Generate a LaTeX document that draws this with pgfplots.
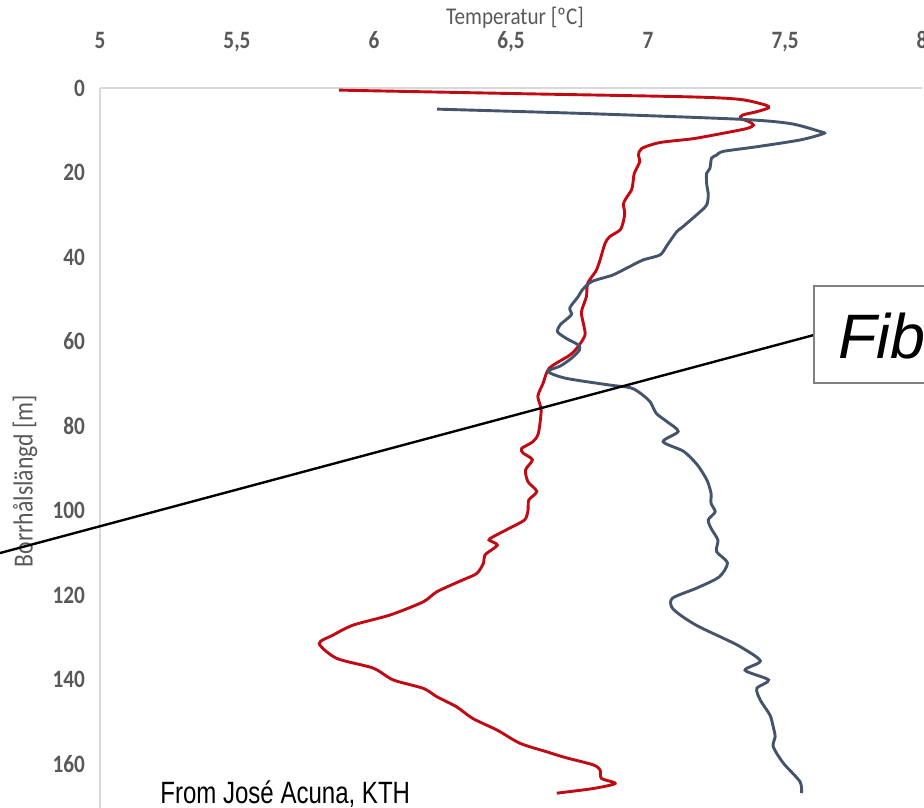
\documentclass[border=0pt]{standalone}
\usepackage{fontspec}
\usepackage{pgfplots}
\pgfplotsset{compat=1.18}
\newfontfamily\carl{Carlito}
\newfontfamily\arialn{Liberation Sans}
\newcommand{\sq}[1]{\scalebox{0.85}[1]{#1}}
\definecolor{redline}{RGB}{192,10,20}
\definecolor{blueline}{RGB}{68,84,106}
\definecolor{txtgray}{RGB}{89,89,89}
\definecolor{axgray}{RGB}{217,217,217}
\begin{document}
\begin{tikzpicture}
\useasboundingbox (-50pt,-359.5pt) rectangle (412pt,44pt);
\clip (-50pt,-359.5pt) rectangle (412pt,44pt);
\begin{axis}[
  at={(0,0)}, anchor=north west,
  scale only axis, width=411pt, height=380.25pt,
  xmin=5, xmax=8, ymin=0, ymax=180,
  y dir=reverse,
  axis x line*=top, axis y line*=left,
  axis line style={draw=axgray, line width=0.8pt, -},
  major tick length=0pt,
  xtick={5,5.5,6,6.5,7,7.5,8},
  xticklabels={\sq{5},\sq{5,5},\sq{6},\sq{6,5},\sq{7},\sq{7,5},\sq{8}},
  ytick={0,20,40,60,80,100,120,140,160},
  yticklabels={\sq{0},\sq{20},\sq{40},\sq{60},\sq{80},\sq{100},\sq{120},\sq{140},\sq{160}},
  xticklabel style={font=\carl\bfseries\fontsize{12.5}{14}\selectfont, text=txtgray, anchor=base, yshift=20pt},
  yticklabel style={font=\carl\bfseries\fontsize{12.5}{14}\selectfont, text=txtgray, anchor=east, xshift=-4pt},
  xlabel={\scalebox{0.88}[1]{Temperatur [ºC]}},
  xlabel style={font=\carl\fontsize{12}{14}\selectfont, text=txtgray, at={(axis description cs:0.5049,1)}, anchor=base, yshift=32pt},
  ylabel={\scalebox{0.86}[1]{Borrhålslängd [m]}},
  ylabel style={font=\carl\fontsize{13.8}{16}\selectfont, text=txtgray, at={(axis description cs:0,0.4832)}, anchor=center, yshift=37.5pt},
]
\addplot[redline, line width=1.45pt, smooth, tension=0.45] coordinates {
(5.872,0.5) (6.5,1.3) (7.153,2.1) (7.336,2.7) (7.427,4.0) (7.44,4.7) (7.397,5.6)
(7.345,6.4) (7.338,7.2) (7.37,8.0) (7.385,8.8) (7.36,9.6) (7.275,10.7) (7.164,12.0)
(7.044,12.9) (6.977,14.3) (6.965,15.9) (6.97,17.4) (6.95,20.2) (6.945,22.5) (6.94,24.1)
(6.92,26.1) (6.91,27.5) (6.915,29.5) (6.91,31.6) (6.898,33.6) (6.86,35.2) (6.843,36.8)
(6.825,40.7) (6.81,43.3) (6.78,46.2) (6.775,49.4) (6.757,53) (6.765,56) (6.77,58.5)
(6.745,61.2) (6.715,63.2) (6.64,66.3) (6.617,69.9) (6.598,73) (6.61,76.2) (6.60,81.7)
(6.58,83.7) (6.539,85.3) (6.544,86.4) (6.578,88) (6.553,90.4) (6.562,93.2) (6.594,95.5)
(6.565,97.5) (6.562,100) (6.55,102.2) (6.5,104) (6.435,106.2) (6.42,107) (6.45,108.2)
(6.405,110.5) (6.40,112.4) (6.375,114.9) (6.325,116.4) (6.23,119.2) (6.18,121.6)
(6.06,124.7) (5.925,127.1) (5.85,129.5) (5.80,131.5) (5.864,135) (5.997,137.3)
(6.07,140.1) (6.18,142.1) (6.23,144.1) (6.30,146.4) (6.36,149.2) (6.45,152)
(6.533,155.1) (6.63,157.1) (6.70,158.5) (6.80,160.2) (6.825,161.4) (6.83,163.4)
(6.88,164.6) (6.80,165.8) (6.667,166.9)
};
\addplot[blueline, line width=1.45pt, smooth, tension=0.45] coordinates {
(6.23,5.0) (6.8,6.1) (7.336,7.4) (7.518,8.4) (7.628,10.3) (7.64,10.8) (7.555,12.3)
(7.397,13.9) (7.275,15.0) (7.25,15.9) (7.232,16.6) (7.226,19) (7.214,20.2) (7.214,22.6)
(7.22,25.3) (7.214,27.7) (7.19,29.3) (7.128,32.8) (7.105,34.0) (7.07,37.2) (7.044,39.5)
(6.982,40.7) (6.92,42.7) (6.87,44.3) (6.795,45.8) (6.76,47.8) (6.745,49.4) (6.715,52)
(6.72,53.7) (6.68,56) (6.67,57.7) (6.70,59.2) (6.745,60.8) (6.75,62) (6.72,64)
(6.68,65.8) (6.635,67.1) (6.70,68.7) (6.86,70.3) (6.934,70.9) (6.965,71.9) (7.007,74.2)
(7.03,77) (7.07,79) (7.11,81.3) (7.055,83.7) (7.13,86) (7.18,89.2) (7.215,92.8)
(7.23,95.9) (7.23,98.3) (7.245,100.3) (7.22,102.2) (7.23,104.2) (7.255,107) (7.25,109.7)
(7.29,112.4) (7.26,115.7) (7.18,118.3) (7.09,120.7) (7.086,122.8) (7.117,124.7)
(7.18,127.3) (7.274,130.2) (7.336,132.2) (7.41,135.6) (7.354,137.8) (7.44,140.1)
(7.397,142.1) (7.41,144.9) (7.445,148.4) (7.457,151.2) (7.464,153.5) (7.457,155.9)
(7.494,159.8) (7.555,164.2) (7.56,166.9)
};
\end{axis}
\draw[black, line width=1.2pt] (357pt,-123.5pt) -- (-60pt,-235.2pt);
\draw[draw=gray, line width=0.8pt, fill=white] (357pt,-99pt) rectangle (425pt,-147.5pt);
\node[anchor=base west, inner sep=0pt, font=\arialn\itshape\fontsize{31.4}{36}\selectfont] at (369pt,-135pt) {Fib};
\node[anchor=base west, inner sep=0pt, font=\arialn\fontsize{15.4}{18}\selectfont] at (30pt,-357.5pt) {\scalebox{0.78}[1]{From José Acuna, KTH}};
\end{tikzpicture}
\end{document}
